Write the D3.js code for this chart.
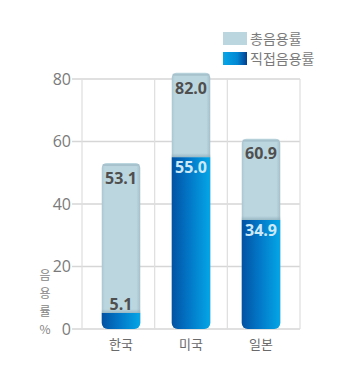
<!DOCTYPE html>
<html>
<head>
<meta charset="utf-8">
<script src="https://cdn.jsdelivr.net/npm/d3@7"></script>
<style>
  body { margin: 0; background: #fff; }
  svg { display: block; }
</style>
</head>
<body>
<svg width="360" height="384"></svg>
<script>
// data
var countries = ["한국", "미국", "일본"];
var totalRate = [53.1, 82.0, 60.9];
var directRate = [5.1, 55.0, 34.9];
var yTicks = [0, 20, 40, 60, 80];
var seriesNames = ["총음용률", "직접음용률"];
var yTitle = ["음", "용", "률", "%"];

var svg = d3.select("svg");
var font = "'Noto Sans CJK KR', 'Noto Sans', sans-serif";
var numFont = "'Open Sans', 'Noto Sans', sans-serif";

var plot = { left: 82, right: 300, top: 79, bottom: 329 };

var y = d3.scaleLinear().domain([0, 80]).range([plot.bottom, plot.top]);

// columns for the grid, bars sit a little tighter
var cols = d3.scaleBand().domain(countries).range([plot.left, plot.right]);
var x = d3.scaleBand().domain(countries).range([86, 296]).paddingInner(0.45).paddingOuter(0.225);

var defs = svg.append("defs");

var blueGrad = defs.append("linearGradient").attr("id", "blueGrad");
blueGrad.append("stop").attr("offset", "0%").attr("stop-color", "#0352a3");
blueGrad.append("stop").attr("offset", "45%").attr("stop-color", "#0277c7");
blueGrad.append("stop").attr("offset", "100%").attr("stop-color", "#04a6e6");

var legendGrad = defs.append("linearGradient").attr("id", "legendGrad");
legendGrad.append("stop").attr("offset", "0%").attr("stop-color", "#05a7e8");
legendGrad.append("stop").attr("offset", "60%").attr("stop-color", "#0387d2");
legendGrad.append("stop").attr("offset", "100%").attr("stop-color", "#023e8e");

var lightGrad = defs.append("linearGradient").attr("id", "lightGrad");
lightGrad.append("stop").attr("offset", "0%").attr("stop-color", "#a9c6d1");
lightGrad.append("stop").attr("offset", "8%").attr("stop-color", "#bcd6df");
lightGrad.append("stop").attr("offset", "90%").attr("stop-color", "#bcd6df");
lightGrad.append("stop").attr("offset", "100%").attr("stop-color", "#a3bfca");

var topShade = defs.append("linearGradient").attr("id", "topShade")
  .attr("x1", 0).attr("x2", 0).attr("y1", 0).attr("y2", 1);
topShade.append("stop").attr("offset", "0%").attr("stop-color", "#8fb0bd").attr("stop-opacity", 0);
topShade.append("stop").attr("offset", "100%").attr("stop-color", "#8fb0bd").attr("stop-opacity", 0.8);

// grid
var grid = svg.append("g");
grid.selectAll("line.h")
  .data(yTicks)
  .enter().append("line")
  .attr("x1", plot.left - 10)
  .attr("x2", plot.right)
  .attr("y1", function(d) { return y(d); })
  .attr("y2", function(d) { return y(d); })
  .attr("stroke", "#d6d6d6")
  .attr("stroke-width", 1.5);

var vLines = countries.map(function(c) { return cols(c); }).concat([plot.right]);
grid.selectAll("line.v")
  .data(vLines)
  .enter().append("line")
  .attr("x1", function(d) { return d; })
  .attr("x2", function(d) { return d; })
  .attr("y1", plot.top)
  .attr("y2", plot.bottom)
  .attr("stroke", "#dedede")
  .attr("stroke-width", 1.2);

// y tick labels
svg.selectAll("text.ytick")
  .data(yTicks)
  .enter().append("text")
  .attr("x", plot.left - 11)
  .attr("y", function(d) { return y(d); })
  .attr("dy", "0.36em")
  .attr("text-anchor", "end")
  .attr("font-family", numFont)
  .attr("font-size", 16)
  .attr("fill", "#7a7a7a")
  .text(function(d) { return d; });

// y title, stacked characters
svg.selectAll("text.ytitle")
  .data(yTitle)
  .enter().append("text")
  .attr("x", 45)
  .attr("y", function(d, i) { return 276 + i * 18; })
  .attr("dy", "0.36em")
  .attr("text-anchor", "middle")
  .attr("font-family", font)
  .attr("font-size", 12)
  .attr("fill", "#858585")
  .text(function(d) { return d; });

function roundedBar(x0, w, yTop, yBot, rTop, rBot) {
  var p = d3.path();
  p.moveTo(x0, yTop + rTop);
  p.arcTo(x0, yTop, x0 + rTop, yTop, rTop);
  p.lineTo(x0 + w - rTop, yTop);
  p.arcTo(x0 + w, yTop, x0 + w, yTop + rTop, rTop);
  p.lineTo(x0 + w, yBot - rBot);
  p.arcTo(x0 + w, yBot, x0 + w - rBot, yBot, rBot);
  p.lineTo(x0 + rBot, yBot);
  p.arcTo(x0, yBot, x0, yBot - rBot, rBot);
  p.closePath();
  return p.toString();
}

var bars = svg.selectAll("g.bar")
  .data(countries)
  .enter().append("g");

// total bars
bars.append("path")
  .attr("d", function(d, i) {
    return roundedBar(x(d), x.bandwidth(), y(totalRate[i]), y(0), 5, 6);
  })
  .attr("fill", "url(#lightGrad)");

// top rim shade on total bars
bars.append("rect")
  .attr("x", function(d) { return x(d) + 1; })
  .attr("width", x.bandwidth() - 2)
  .attr("y", function(d, i) { return y(totalRate[i]) + 1; })
  .attr("height", 2)
  .attr("fill", "#a7c2cc");

// shadow above direct bars
bars.append("rect")
  .attr("x", function(d) { return x(d); })
  .attr("width", x.bandwidth())
  .attr("y", function(d, i) { return y(directRate[i]) - 4; })
  .attr("height", 4)
  .attr("fill", "url(#topShade)");

// direct bars
bars.append("path")
  .attr("d", function(d, i) {
    return roundedBar(x(d), x.bandwidth(), y(directRate[i]), y(0), 0, 6);
  })
  .attr("fill", "url(#blueGrad)");

// total labels
bars.append("text")
  .attr("x", function(d) { return x(d) + x.bandwidth() / 2; })
  .attr("y", function(d, i) { return y(totalRate[i]) + 15; })
  .attr("dy", "0.36em")
  .attr("text-anchor", "middle")
  .attr("font-family", numFont)
  .attr("font-weight", "bold")
  .attr("font-size", 16)
  .attr("fill", "#4f4f4f")
  .text(function(d, i) { return totalRate[i].toFixed(1); });

// direct labels: inside when bar tall enough, above otherwise
bars.append("text")
  .attr("x", function(d) { return x(d) + x.bandwidth() / 2; })
  .attr("y", function(d, i) {
    var v = directRate[i];
    return v < 10 ? y(v) - 9 : y(v) + 10;
  })
  .attr("dy", "0.36em")
  .attr("text-anchor", "middle")
  .attr("font-family", numFont)
  .attr("font-weight", "bold")
  .attr("font-size", 16)
  .attr("fill", function(d, i) { return directRate[i] < 10 ? "#4f4f4f" : "#cde9f7"; })
  .text(function(d, i) { return directRate[i].toFixed(1); });

// x labels
svg.selectAll("text.xlab")
  .data(countries)
  .enter().append("text")
  .attr("x", function(d) { return x(d) + x.bandwidth() / 2; })
  .attr("y", 344)
  .attr("dy", "0.36em")
  .attr("text-anchor", "middle")
  .attr("font-family", font)
  .attr("font-size", 13)
  .attr("fill", "#6a6a6a")
  .text(function(d) { return d; });

// legend
var legend = svg.append("g").attr("transform", "translate(223,32)");
var item = legend.selectAll("g")
  .data(seriesNames)
  .enter().append("g")
  .attr("transform", function(d, i) { return "translate(0," + i * 20 + ")"; });
item.append("rect")
  .attr("width", 24)
  .attr("height", 13)
  .attr("fill", function(d, i) { return i === 0 ? "#bcd6df" : "url(#legendGrad)"; });
item.append("text")
  .attr("x", 27)
  .attr("y", 7)
  .attr("dy", "0.36em")
  .attr("font-family", font)
  .attr("font-size", 14)
  .attr("fill", "#7a7a7a")
  .text(function(d) { return d; });
</script>
</body>
</html>
